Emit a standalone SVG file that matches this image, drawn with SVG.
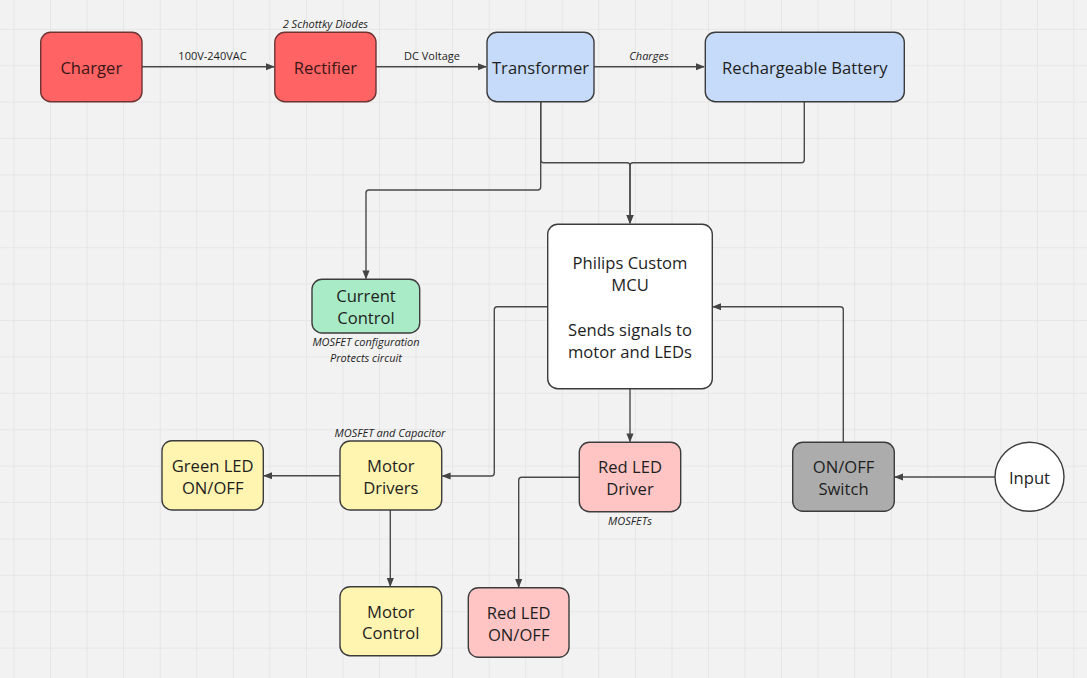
<svg xmlns="http://www.w3.org/2000/svg" width="1087" height="678" viewBox="0 0 1087 678">
<defs>
<pattern id="grid" patternUnits="userSpaceOnUse" x="13.5" y="28.8" width="36.55" height="36.4">
<path d="M0,0 H36.55 M0,0 V36.4" fill="none" stroke="#e3e3e3" stroke-width="1.6"/>
</pattern>
<marker id="ah" viewBox="0 0 10 10" refX="9" refY="5" markerWidth="9" markerHeight="9" markerUnits="userSpaceOnUse" orient="auto">
<path d="M0,1 L10,5 L0,9 Z" fill="#444"/>
</marker>
<style>
.n{stroke:#3c3c3c;stroke-width:1.4}
.red{fill:#ff6363;stroke:#6e3434}
.blue{fill:#c6dbfa}
.green{fill:#a9ebc7}
.yel{fill:#fff4b0}
.pink{fill:#ffc5c5}
.gray{fill:#acacac}
.wht{fill:#ffffff}
.t{font-family:"Open Sans","Noto Sans",sans-serif;font-size:16.6px;fill:#1e1e1e;text-anchor:middle;dominant-baseline:central}
.tr{fill:#3a1616}
.s{font-family:"Open Sans","Noto Sans",sans-serif;font-size:11px;fill:#1e1e1e;text-anchor:middle;dominant-baseline:central}
.i{font-style:italic}
.c{fill:none;stroke:#4a4a4a;stroke-width:1.4}
</style>
</defs>
<rect width="1087" height="678" fill="#f2f2f2"/>
<rect width="1087" height="678" fill="url(#grid)"/>

<g id="connectors">
<path class="c" d="M142,66.7 H274" marker-end="url(#ah)"/>
<path class="c" d="M376,66.7 H486" marker-end="url(#ah)"/>
<path class="c" d="M594,66.7 H704" marker-end="url(#ah)"/>
<path class="c" d="M540.7,101.5 V159.7 Q540.7,162.7 543.7,162.7 H627 Q630,162.7 630,165.7 V223" marker-end="url(#ah)"/>
<path class="c" d="M804.3,101.5 V159.7 Q804.3,162.7 801.3,162.7 H633 Q630,162.7 630,165.7 V223" marker-end="url(#ah)"/>
<path class="c" d="M540.7,101.5 V187 Q540.7,190 537.7,190 H369 Q366,190 366,193 V278.5" marker-end="url(#ah)"/>
<path class="c" d="M547.5,306.7 H497.3 Q494.3,306.7 494.3,309.7 V473 Q494.3,476 491.3,476 H442.5" marker-end="url(#ah)"/>
<path class="c" d="M843.3,442 V309.7 Q843.3,306.7 840.3,306.7 H713" marker-end="url(#ah)"/>
<path class="c" d="M630,388.7 V441.5" marker-end="url(#ah)"/>
<path class="c" d="M340,475.7 H264" marker-end="url(#ah)"/>
<path class="c" d="M390.3,510 V586" marker-end="url(#ah)"/>
<path class="c" d="M579.3,477.3 H521.7 Q518.7,477.3 518.7,480.3 V587" marker-end="url(#ah)"/>
<path class="c" d="M995,477 H895" marker-end="url(#ah)"/>
<text class="s" x="212.5" y="55">100V-240VAC</text>
<text class="s" x="432" y="55">DC Voltage</text>
<text class="s i" x="649" y="55">Charges</text>
</g>

<g id="charger">
<rect class="n red" x="40.7" y="32.3" width="101.3" height="69.4" rx="10"/>
<text class="t tr" x="91.3" y="67.5">Charger</text>
</g>
<g id="rectifier">
<rect class="n red" x="274.8" y="32.3" width="101.2" height="69.4" rx="10"/>
<text class="t tr" x="325.4" y="67.5">Rectifier</text>
<text class="s i" x="325.4" y="23.5">2 Schottky Diodes</text>
</g>
<g id="transformer">
<rect class="n blue" x="487" y="32.3" width="107" height="69.4" rx="10"/>
<text class="t" x="540.5" y="67.5">Transformer</text>
</g>
<g id="battery">
<rect class="n blue" x="705.3" y="32.3" width="199" height="69.4" rx="10"/>
<text class="t" x="804.8" y="67.5">Rechargeable Battery</text>
</g>
<g id="mcu">
<rect class="n wht" x="547.7" y="224.3" width="164.6" height="164.4" rx="10"/>
<text class="t" x="630" y="262.3">Philips Custom</text>
<text class="t" x="630" y="284.3">MCU</text>
<text class="t" x="630" y="329.7">Sends signals to</text>
<text class="t" x="630" y="351.7">motor and LEDs</text>
</g>
<g id="current-control">
<rect class="n green" x="312" y="279.3" width="107.7" height="53.7" rx="10"/>
<text class="t" x="366" y="295.7">Current</text>
<text class="t" x="366" y="317.7">Control</text>
<text class="s i" x="366" y="341.7">MOSFET configuration</text>
<text class="s i" x="366" y="357.3">Protects circuit</text>
</g>
<g id="motor-drivers">
<rect class="n yel" x="340" y="441" width="101.7" height="69" rx="10"/>
<text class="t" x="390.8" y="465">Motor</text>
<text class="t" x="390.8" y="487.3">Drivers</text>
<text class="s i" x="390" y="432.5">MOSFET and Capacitor</text>
</g>
<g id="green-led">
<rect class="n yel" x="162" y="440.7" width="101.3" height="69.3" rx="10"/>
<text class="t" x="212.7" y="465.3">Green LED</text>
<text class="t" x="212.7" y="487.3">ON/OFF</text>
</g>
<g id="motor-control">
<rect class="n yel" x="340" y="586.7" width="101.7" height="69" rx="10"/>
<text class="t" x="390.8" y="611">Motor</text>
<text class="t" x="390.8" y="632.7">Control</text>
</g>
<g id="red-led-driver">
<rect class="n pink" x="579.3" y="442.3" width="101.4" height="69.4" rx="10"/>
<text class="t" x="630" y="466.7">Red LED</text>
<text class="t" x="630" y="488.3">Driver</text>
<text class="s i" x="630" y="520">MOSFETs</text>
</g>
<g id="red-led-onoff">
<rect class="n pink" x="468.3" y="587.7" width="100.7" height="69.6" rx="10"/>
<text class="t" x="518.7" y="612.3">Red LED</text>
<text class="t" x="518.7" y="634">ON/OFF</text>
</g>
<g id="onoff-switch">
<rect class="n gray" x="792.7" y="442.3" width="101.6" height="69" rx="10"/>
<text class="t" x="843.5" y="466.7">ON/OFF</text>
<text class="t" x="843.5" y="488.3">Switch</text>
</g>
<g id="input">
<circle class="n wht" cx="1029.5" cy="476.8" r="34.5"/>
<text class="t" x="1029.5" y="477">Input</text>
</g>
</svg>
